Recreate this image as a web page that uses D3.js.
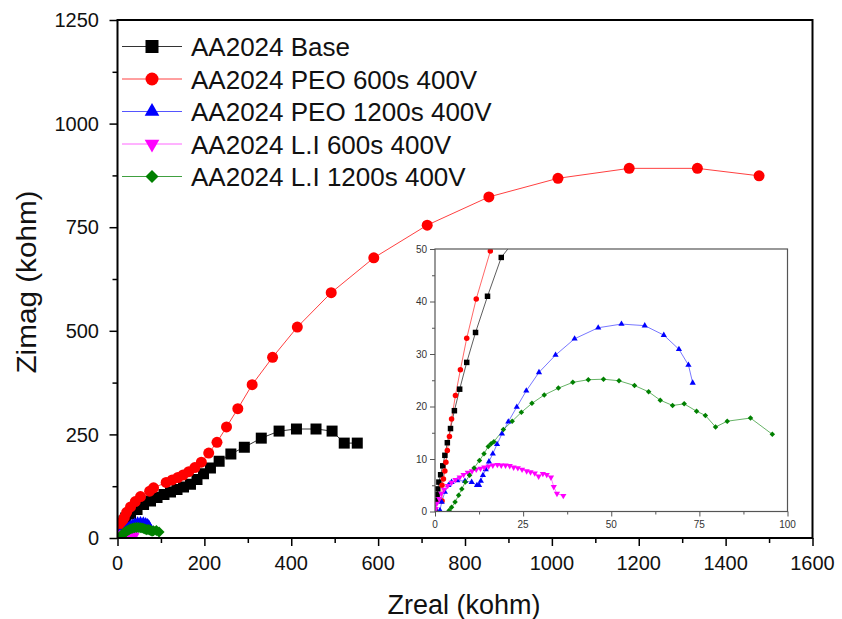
<!DOCTYPE html>
<html>
<head>
<meta charset="utf-8">
<script src="https://cdn.jsdelivr.net/npm/d3@7"></script>
<style>
  body { margin: 0; background: #fff; }
  svg { display: block; }
</style>
</head>
<body>
<svg width="842" height="619"></svg>
<script>
const width = 842;
const height = 619;
const font = "'Liberation Sans', Arial, sans-serif";

// [Zreal, Zimag] in kohm
const baseData = [
  [0, 0.2], [0.3, 2.1], [0.6, 3.2], [0.8, 4.3], [1.1, 5.6], [1.6, 7.0], [2.2, 8.7], [2.8, 10.7],
  [3.5, 13.1], [4.4, 15.8], [5.5, 19.2], [7.0, 23.3], [9.0, 28.4], [11.5, 34.1], [14.9, 41.0],
  [18.8, 48.4], [30, 58], [45, 69], [60, 81], [76, 89], [91, 98], [107, 105], [122, 111],
  [137, 117], [152, 123], [168, 130], [183, 141], [198, 155], [214, 169], [234, 185], [261, 203],
  [292, 219], [331, 241], [372, 258], [412, 263], [457, 263], [494, 258], [522, 229], [552, 229]
];
const peo600Data = [
  [2.0, 2.0], [2.0, 5.0], [2.4, 6.2], [2.8, 7.7], [3.1, 9.4], [3.5, 11.6], [4.1, 14.3], [4.7, 17.6],
  [5.8, 22.1], [7.2, 27.0], [9.0, 33.0], [11.7, 40.5], [15.7, 49.6], [21, 62], [30, 75], [41, 88],
  [53, 100], [74, 113], [83, 121], [112, 134], [126, 140], [139, 146], [151, 152], [164, 160],
  [178, 170], [193, 183], [210, 205], [229, 231], [251, 268], [277, 312], [310, 370], [357, 436],
  [414, 509], [492, 592], [590, 676], [713, 755], [855, 823], [1014, 868], [1178, 892],
  [1335, 892], [1477, 874]
];
const peo1200Data = [
  [1.4, 0.2], [1.9, 1.8], [2.8, 3.7], [3.8, 5.0], [4.7, 5.6], [6.3, 5.9], [8.5, 5.8], [10.4, 5.6],
  [11.9, 5.0], [12.5, 5.0], [13.0, 5.8], [13.6, 6.9], [14.4, 8.0], [15.3, 9.5], [16.4, 11.0],
  [17.6, 12.8], [19.0, 14.8], [20.8, 17.1], [23.2, 19.9], [25.9, 23.0], [29.5, 26.5], [34.2, 29.8],
  [39.6, 32.9], [46.3, 35.0], [52.9, 35.7], [59.5, 35.4], [64.9, 33.6], [69.2, 30.9], [71.9, 27.9],
  [73.1, 24.5]
];
const li600Data = [
  [0.2, 0.5], [0.5, 1.5], [1.2, 2.4], [1.8, 3.4], [2.6, 4.2], [3.6, 4.9], [4.7, 5.5], [5.8, 6.05],
  [7.0, 6.5], [8.1, 7.0], [9.3, 7.4], [10.5, 7.7], [11.7, 8.0], [12.9, 8.2], [14.0, 8.4], [15.2, 8.6],
  [16.4, 8.8], [17.7, 8.9], [18.8, 8.8], [20.0, 8.8], [21.2, 8.7], [22.3, 8.4], [23.5, 8.3],
  [24.7, 8.0], [26.0, 7.7], [27.1, 7.5], [28.3, 7.3], [29.4, 6.7], [30.6, 7.2], [31.7, 7.0],
  [32.9, 6.5], [33.7, 4.7], [34.6, 3.4], [36.4, 3.0]
];
const li1200Data = [
  [4.0, 0.2], [4.7, 0.8], [5.7, 1.8], [6.7, 3.1], [7.6, 4.3], [8.6, 5.6], [9.8, 6.9], [11.1, 8.3],
  [12.6, 9.7], [13.9, 11.0], [15.1, 12.4], [15.9, 12.9], [16.7, 13.3], [19.4, 15.6], [21.9, 17.2],
  [24.5, 18.9], [27.5, 20.6], [31.0, 22.2], [35.0, 23.5], [39.1, 24.6], [43.5, 25.1], [47.8, 25.2],
  [52.2, 24.9], [56.6, 24.0], [60.6, 22.8], [63.9, 21.2], [67.4, 20.2], [70.7, 20.5], [74.2, 19.1],
  [76.7, 18.3], [79.6, 16.1], [82.9, 17.2], [89.5, 17.8], [95.7, 14.7]
];

const seriesNames = ["AA2024 Base", "AA2024 PEO 600s 400V", "AA2024 PEO 1200s 400V",
  "AA2024 L.I 600s 400V", "AA2024 L.I 1200s 400V"];
const seriesData = [baseData, peo600Data, peo1200Data, li600Data, li1200Data];
const seriesColors = ["#000000", "#ff0000", "#0000ff", "#ff00ff", "#008000"];
const lineColors = ["#333333", "#ff4040", "#5555ff", "#ff66ff", "#40a040"];
const seriesSymbols = ["square", "circle", "triangle", "down", "diamond"];

const xTicks = [0, 200, 400, 600, 800, 1000, 1200, 1400, 1600];
const yTicks = [0, 250, 500, 750, 1000, 1250];
const insetXTicks = [0, 25, 50, 75, 100];
const insetYTicks = [0, 10, 20, 30, 40, 50];

const svg = d3.select("svg");

const x = d3.scaleLinear().domain([0, 1600]).range([117.5, 812.5]);
const y = d3.scaleLinear().domain([0, 1250]).range([538, 20]);
const xi = d3.scaleLinear().domain([0, 100]).range([435, 787.5]);
const yi = d3.scaleLinear().domain([0, 50]).range([511.5, 249]);

function symbolPath(kind, s) {
  if (kind === "square") return d3.symbol(d3.symbolSquare, s * s)();
  if (kind === "circle") return d3.symbol(d3.symbolCircle, Math.PI * s * s / 4)();
  if (kind === "diamond") return d3.symbol(d3.symbolSquare, s * s / 2)();
  return d3.symbol(d3.symbolTriangle, s * s * 0.55)();
}
function symbolRotate(kind) {
  if (kind === "down") return " rotate(180)";
  if (kind === "diamond") return " rotate(45)";
  return "";
}

function drawSeries(g, xs, ys, size, lw) {
  seriesData.forEach((data, i) => {
    g.append("path")
      .datum(data)
      .attr("fill", "none")
      .attr("stroke", lineColors[i])
      .attr("stroke-width", lw)
      .attr("d", d3.line().x(d => xs(d[0])).y(d => ys(d[1])));
  });
  seriesData.forEach((data, i) => {
    g.append("g").selectAll("path")
      .data(data)
      .enter().append("path")
        .attr("d", symbolPath(seriesSymbols[i], size))
        .attr("transform", d => "translate(" + xs(d[0]) + "," + ys(d[1]) + ")" + symbolRotate(seriesSymbols[i]))
        .attr("fill", seriesColors[i]);
  });
}

// main plot
svg.append("clipPath").attr("id", "mainClip")
  .append("rect").attr("x", 117.5).attr("y", 20).attr("width", 695).attr("height", 518);

const mainG = svg.append("g").attr("clip-path", "url(#mainClip)");
drawSeries(mainG, x, y, 11, 1);

const xAxis = svg.append("g")
  .attr("transform", "translate(0,538)")
  .call(d3.axisBottom(x).tickValues(d3.range(0, 1601, 100)).tickSize(5).tickFormat(""));
xAxis.selectAll(".tick line").filter(d => d % 200 === 0).attr("y2", 8);
xAxis.selectAll(".tick line").attr("stroke-width", 1.5);

const yAxis = svg.append("g")
  .attr("transform", "translate(117.5,0)")
  .call(d3.axisLeft(y).tickValues(d3.range(0, 1251, 125)).tickSize(5).tickFormat(""));
yAxis.selectAll(".tick line").filter(d => d % 250 === 0).attr("x2", -8);
yAxis.selectAll(".tick line").attr("stroke-width", 1.5);
svg.selectAll(".domain").remove();

svg.append("rect")
  .attr("x", x(0)).attr("y", y(1250))
  .attr("width", x(1600) - x(0)).attr("height", y(0) - y(1250))
  .attr("fill", "none").attr("stroke", "#000").attr("stroke-width", 2);

svg.append("g").selectAll("text")
  .data(xTicks)
  .enter().append("text")
    .attr("x", d => x(d))
    .attr("y", 570)
    .attr("text-anchor", "middle")
    .attr("font-family", font)
    .attr("font-size", 20)
    .attr("fill", "#111")
    .text(d => d);

svg.append("g").selectAll("text")
  .data(yTicks)
  .enter().append("text")
    .attr("x", 99)
    .attr("y", d => y(d))
    .attr("dy", "0.36em")
    .attr("text-anchor", "end")
    .attr("font-family", font)
    .attr("font-size", 20)
    .attr("fill", "#111")
    .text(d => d);

svg.append("text")
  .attr("x", 464).attr("y", 614)
  .attr("text-anchor", "middle")
  .attr("font-family", font)
  .attr("font-size", 27)
  .attr("fill", "#111")
  .text("Zreal (kohm)");

svg.append("text")
  .attr("transform", "translate(36,282) rotate(-90)")
  .attr("text-anchor", "middle")
  .attr("font-family", font)
  .attr("font-size", 28)
  .attr("textLength", 183)
  .attr("lengthAdjust", "spacingAndGlyphs")
  .attr("fill", "#111")
  .text("Zimag (kohm)");

// legend
const legend = svg.append("g").selectAll("g")
  .data(seriesNames)
  .enter().append("g")
    .attr("transform", (d, i) => "translate(0," + (46.5 + i * 32.5) + ")");
legend.append("line")
  .attr("x1", 122).attr("x2", 182)
  .attr("stroke", (d, i) => lineColors[i]).attr("stroke-width", 1);
legend.append("path")
  .attr("d", (d, i) => symbolPath(seriesSymbols[i], 13))
  .attr("transform", (d, i) => "translate(152,0)" + symbolRotate(seriesSymbols[i]))
  .attr("fill", (d, i) => seriesColors[i]);
legend.append("text")
  .attr("x", 191).attr("y", 9.5)
  .attr("font-family", font)
  .attr("font-size", 26)
  .attr("fill", "#111")
  .text(d => d);

// inset
svg.append("rect")
  .attr("x", xi(0)).attr("y", yi(50))
  .attr("width", xi(100) - xi(0)).attr("height", yi(0) - yi(50))
  .attr("fill", "#fff");

svg.append("clipPath").attr("id", "insetClip")
  .append("rect").attr("x", xi(0)).attr("y", yi(50))
  .attr("width", xi(100) - xi(0)).attr("height", yi(0) - yi(50));

const insetG = svg.append("g").attr("clip-path", "url(#insetClip)");
drawSeries(insetG, xi, yi, 5.5, 0.8);

const ixAxis = svg.append("g")
  .attr("transform", "translate(0," + yi(0) + ")")
  .call(d3.axisBottom(xi).tickValues(d3.range(0, 101, 12.5)).tickSize(3).tickFormat(""));
ixAxis.selectAll(".tick line").filter(d => d % 25 === 0).attr("y2", 5);
const iyAxis = svg.append("g")
  .attr("transform", "translate(" + xi(0) + ",0)")
  .call(d3.axisLeft(yi).tickValues(d3.range(0, 51, 5)).tickSize(3).tickFormat(""));
iyAxis.selectAll(".tick line").filter(d => d % 10 === 0).attr("x2", -5);
ixAxis.selectAll(".domain").remove();
iyAxis.selectAll(".domain").remove();
svg.selectAll(".tick line").filter(function () { return this.closest("g").parentNode !== xAxis.node() && this.closest("g").parentNode !== yAxis.node(); })
  .attr("stroke", "#555");

svg.append("rect")
  .attr("x", xi(0)).attr("y", yi(50))
  .attr("width", xi(100) - xi(0)).attr("height", yi(0) - yi(50))
  .attr("fill", "none").attr("stroke", "#555").attr("stroke-width", 1.2);

svg.append("g").selectAll("text")
  .data(insetXTicks)
  .enter().append("text")
    .attr("x", d => xi(d))
    .attr("y", 528)
    .attr("text-anchor", "middle")
    .attr("font-family", font)
    .attr("font-size", 10)
    .attr("fill", "#333")
    .text(d => d);

svg.append("g").selectAll("text")
  .data(insetYTicks)
  .enter().append("text")
    .attr("x", 427)
    .attr("y", d => yi(d))
    .attr("dy", "0.35em")
    .attr("text-anchor", "end")
    .attr("font-family", font)
    .attr("font-size", 10)
    .attr("fill", "#333")
    .text(d => d);
</script>
</body>
</html>
